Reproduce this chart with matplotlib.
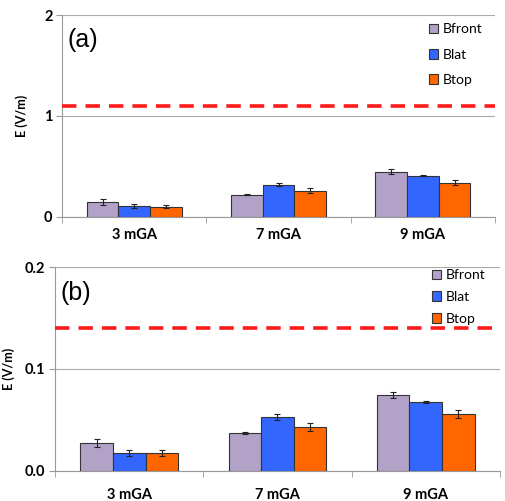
import matplotlib
matplotlib.use("Agg")
import matplotlib.pyplot as plt
import numpy as np

categories = ["3 mGA", "7 mGA", "9 mGA"]
series = ["Bfront", "Blat", "Btop"]
colors = ["#B3A2C7", "#3366FF", "#FF6600"]

vals_a = {"Bfront": [0.15, 0.22, 0.45], "Blat": [0.105, 0.32, 0.41], "Btop": [0.10, 0.26, 0.34]}
err_a = {"Bfront": [0.03, 0.005, 0.02], "Blat": [0.02, 0.015, 0.006], "Btop": [0.015, 0.025, 0.025]}
limit_a = 1.10

vals_b = {"Bfront": [0.027, 0.037, 0.0745], "Blat": [0.018, 0.053, 0.068], "Btop": [0.018, 0.043, 0.056]}
err_b = {"Bfront": [0.004, 0.0008, 0.003], "Blat": [0.003, 0.003, 0.001], "Btop": [0.003, 0.004, 0.004]}
limit_b = 0.14

plt.rcParams['font.family'] = ['Lato', 'DejaVu Sans']

fig = plt.figure(figsize=(5.05, 5.01), dpi=100)
ax_a = fig.add_axes([0.123, 0.567, 0.857, 0.403])
ax_b = fig.add_axes([0.109, 0.060, 0.881, 0.407])

def draw(ax, vals, errs, limit, ymax, yticks, yticklabels, label, ylab_x, xpad,
         lspacing, lanchor):
    x = np.arange(len(categories))
    w = 0.22
    for i, s in enumerate(series):
        ax.bar(x + (i - 1) * w, vals[s], width=w, color=colors[i], edgecolor="#333333",
               linewidth=0.8, yerr=errs[s], capsize=2,
               error_kw=dict(elinewidth=0.8, capthick=0.8, ecolor="#222222"),
               label=s, zorder=3)
    ax.axhline(limit, color="#FF1A1A", linestyle=(0, (4, 2.5)), linewidth=2.6, zorder=4)
    ax.set_xlim(-0.5, 2.5)
    ax.set_ylim(0, ymax)
    ax.set_yticks(yticks)
    ax.set_yticklabels(yticklabels, fontsize=10.5, fontweight="bold")
    ax.set_xticks(x)
    ax.set_xticklabels(categories, fontsize=10.5, fontweight="bold")
    ax.set_xticks([-0.5, 0.5, 1.5, 2.5], minor=True)
    ax.tick_params(axis="x", which="major", length=0, pad=xpad)
    ax.tick_params(axis="x", which="minor", length=4, color="#999999")
    ax.tick_params(axis="y", length=4, color="#999999", pad=3)
    ax.yaxis.grid(True, color="#AAAAAA", linewidth=0.8, zorder=0)
    ax.set_axisbelow(True)
    for sp in ["top", "right"]:
        ax.spines[sp].set_visible(False)
    for sp in ["left", "bottom"]:
        ax.spines[sp].set_color("#999999")
        ax.spines[sp].set_linewidth(0.8)
    ax.set_ylabel("E (V/m)", fontsize=9, fontweight="bold")
    bb = ax.get_position()
    ax.yaxis.set_label_coords(ylab_x / 505.0, (bb.y0 + bb.y1) / 2, transform=fig.transFigure)
    ax.text(0.012, 0.875, label, transform=ax.transAxes, fontsize=18,
            family="Liberation Sans", va="center", ha="left")
    ax.legend(loc="upper right", frameon=False, fontsize=10, handlelength=0.7,
              handleheight=0.7, handletextpad=0.3, labelspacing=lspacing,
              bbox_to_anchor=lanchor)

draw(ax_a, vals_a, err_a, limit_a, 2, [0, 1, 2], ["0", "1", "2"], "(a)", 28, 8,
     0.95, (1.0, 1.02))
draw(ax_b, vals_b, err_b, limit_b, 0.2, [0, 0.1, 0.2], ["0.0", "0.1", "0.2"], "(b)", 15, 12,
     0.7, (0.995, 1.05))

fig.savefig("out.png", dpi=100)
